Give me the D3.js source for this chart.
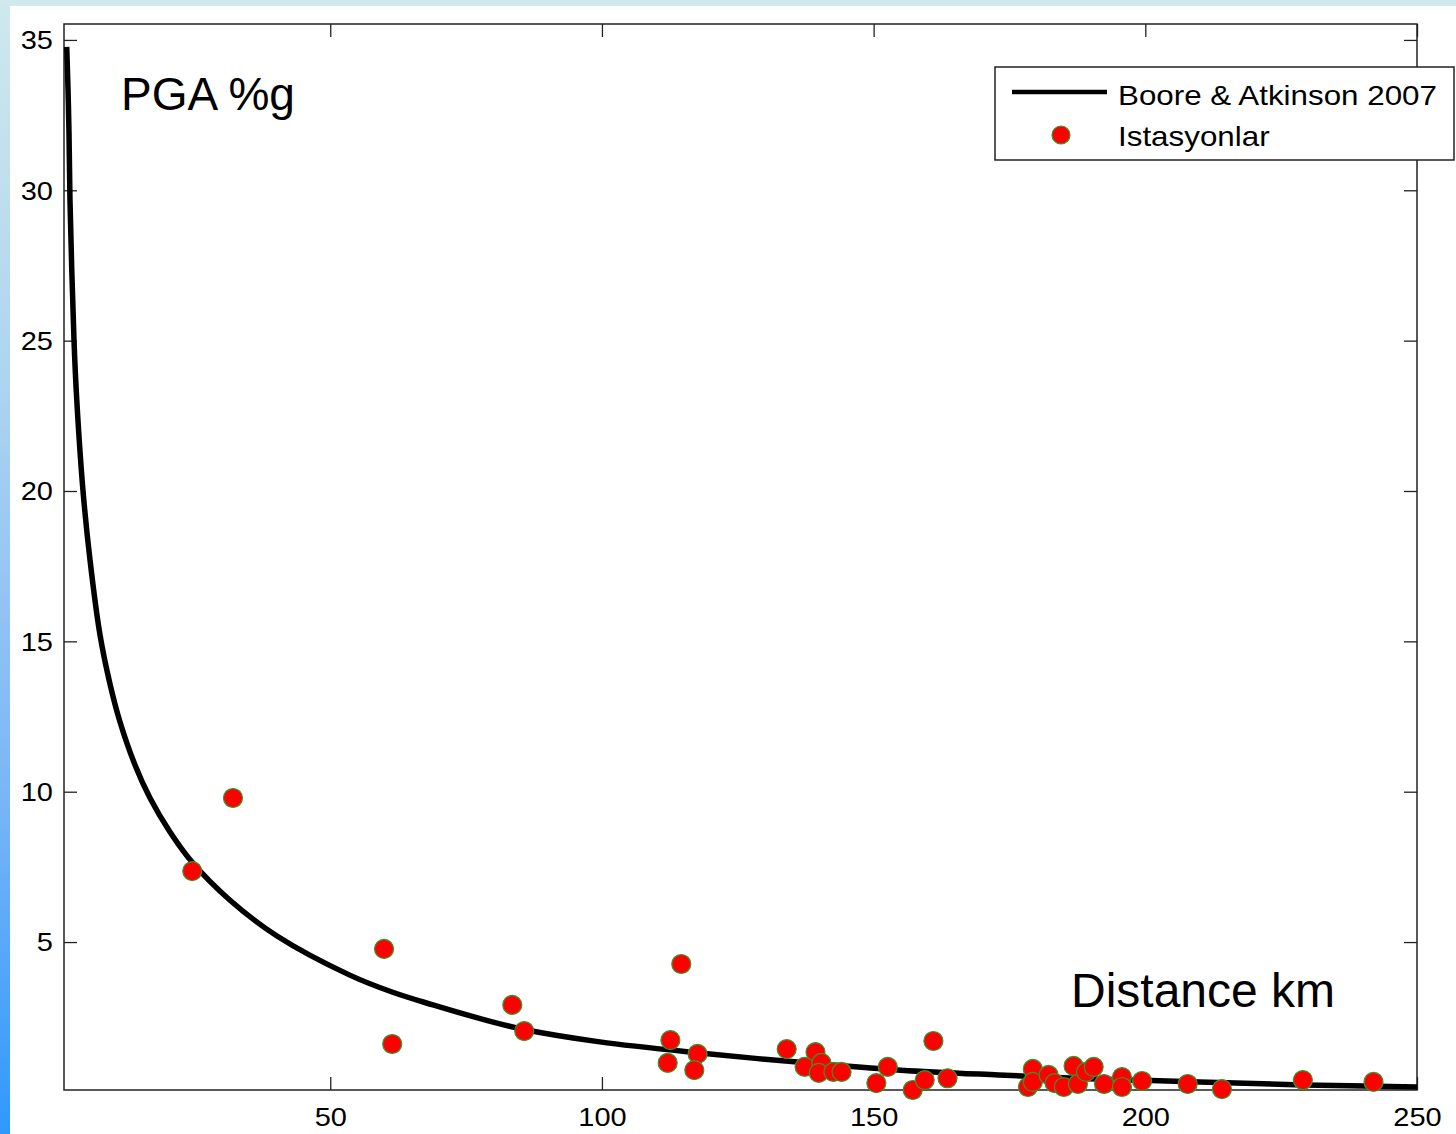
<!DOCTYPE html>
<html>
<head>
    <meta charset="utf-8">
    <title>PGA vs Distance</title>
    <script src="https://d3js.org/d3.v7.min.js"></script>
    <style type="text/css">
        body {
            margin: 0;
            background: #ffffff;
        }
        svg text {
            font-family: "Liberation Sans", Arial, Helvetica, sans-serif;
            fill: #000;
        }
    </style>
</head>
<body>
    <div id="chart"></div>
    <script>
        // Boore & Atkinson 2007 curve
        var curveDist = [1.5, 1.74, 1.92, 2.1, 2.84, 3.35, 4.5, 5.79, 7.63, 9.47, 11.31, 14.07, 16.83, 20.51, 24.56,
            31.55, 40.2, 53.6, 61.5, 68.9, 78.1, 85.5, 99.6, 118, 136.5, 155, 173, 192, 210, 229, 250];
        var curvePGA = [34.77, 33.34, 31.9, 29.68, 25.02, 23.03, 20.0, 17.7, 15.21, 13.58, 12.32, 10.89, 9.79, 8.66, 7.66,
            6.39, 5.2, 3.9, 3.33, 2.91, 2.43, 2.1, 1.68, 1.31, 1.0, 0.74, 0.58, 0.44, 0.35, 0.25, 0.18];

        // stations (Istasyonlar)
        var stationDist = [24.6, 32.1, 59.9, 61.4, 83.5, 85.7, 114.6, 112.6, 112.1, 117.6, 117.0,
            134.0, 139.3, 137.3, 140.4, 139.9, 142.6, 144.1, 150.5, 152.6, 161.0, 157.2, 159.4, 163.6,
            179.3, 178.4, 179.3, 182.2, 183.3, 185.0, 186.8, 187.6, 189.1, 190.5, 192.4, 195.7, 195.7,
            199.4, 207.8, 214.1, 229.0, 242.0];
        var stationPGA = [7.36, 9.79, 4.77, 1.61, 2.91, 2.04, 4.27, 1.74, 0.98, 1.28, 0.74,
            1.44, 1.34, 0.85, 0.98, 0.65, 0.68, 0.68, 0.31, 0.85, 1.71, 0.08, 0.41, 0.47,
            0.78, 0.18, 0.35, 0.58, 0.31, 0.18, 0.88, 0.28, 0.68, 0.85, 0.28, 0.51, 0.18,
            0.38, 0.28, 0.11, 0.41, 0.35];

        var xTicks = [50, 100, 150, 200, 250];
        var yTicks = [5, 10, 15, 20, 25, 30, 35];
        var legendLabels = ["Boore & Atkinson 2007", "Istasyonlar"];

        var W = 1456, H = 1134;
        var margin = { top: 24, right: 39, bottom: 44, left: 64 };
        var width = W - margin.left - margin.right,
            height = H - margin.top - margin.bottom;

        var svg = d3.select("#chart").append("svg")
            .attr("width", W)
            .attr("height", H);

        // slide background: blue gradient strip on the left and top
        var grad = svg.append("defs").append("linearGradient")
            .attr("id", "bg")
            .attr("x1", 0).attr("y1", 0).attr("x2", 0).attr("y2", 1);
        grad.append("stop").attr("offset", "0").attr("stop-color", "#d0e8ee");
        grad.append("stop").attr("offset", "0.35").attr("stop-color", "#acd3f0");
        grad.append("stop").attr("offset", "0.7").attr("stop-color", "#7ab6f6");
        grad.append("stop").attr("offset", "1").attr("stop-color", "#2f98ff");

        svg.append("rect").attr("width", W).attr("height", H).attr("fill", "url(#bg)");
        svg.append("rect").attr("x", 10).attr("y", 6)
            .attr("width", W - 10).attr("height", H - 6)
            .attr("fill", "#ffffff");

        var x = d3.scaleLinear().domain([1, 250]).range([0, width]);
        var y = d3.scaleLinear().domain([0.08, 35.53]).range([height, 0]);

        var g = svg.append("g")
            .attr("transform", "translate(" + margin.left + "," + margin.top + ")");

        var tickLen = 13;

        function styleAxis(sel) {
            sel.select(".domain").remove();
            sel.selectAll(".tick line").attr("stroke", "#222").attr("stroke-width", 1.3);
        }

        // bottom axis with labels
        var xAxis = g.append("g")
            .attr("transform", "translate(0," + height + ")")
            .call(d3.axisBottom(x).tickValues(xTicks).tickSize(-tickLen).tickFormat(d3.format("d")));
        styleAxis(xAxis);
        xAxis.selectAll(".tick text")
            .attr("y", 0).attr("dy", 0)
            .attr("transform", "translate(0,36) scale(1.16,1)")
            .attr("font-size", 25)
            .attr("fill", "#000");

        // top axis, ticks only
        var xTop = g.append("g")
            .call(d3.axisTop(x).tickValues(xTicks).tickSize(-tickLen).tickFormat(""));
        styleAxis(xTop);

        // left axis with labels
        var yAxis = g.append("g")
            .call(d3.axisLeft(y).tickValues(yTicks).tickSize(-tickLen).tickFormat(d3.format("d")));
        styleAxis(yAxis);
        yAxis.selectAll(".tick text")
            .attr("x", 0).attr("dy", "0.35em")
            .attr("transform", "translate(-11,0) scale(1.16,1)")
            .attr("font-size", 25)
            .attr("fill", "#000");

        // right axis, ticks only
        var yRight = g.append("g")
            .attr("transform", "translate(" + width + ",0)")
            .call(d3.axisRight(y).tickValues(yTicks).tickSize(-tickLen).tickFormat(""));
        styleAxis(yRight);

        // frame
        g.append("rect")
            .attr("width", width).attr("height", height)
            .attr("fill", "none")
            .attr("stroke", "#222")
            .attr("stroke-width", 1.5);

        // model curve
        var curveData = curveDist.map(function(d, i) {
            return { d: d, pga: curvePGA[i] };
        });
        var line = d3.line()
            .x(function(d) { return x(d.d); })
            .y(function(d) { return y(d.pga); })
            .curve(d3.curveCatmullRom.alpha(0.5));

        g.append("path")
            .datum(curveData)
            .attr("d", line)
            .attr("fill", "none")
            .attr("stroke", "#000")
            .attr("stroke-width", 5.5);

        // stations
        var stations = stationDist.map(function(d, i) {
            return { d: d, pga: stationPGA[i] };
        });
        g.selectAll("circle.st")
            .data(stations)
            .enter().append("circle")
            .attr("class", "st")
            .attr("cx", function(d) { return x(d.d); })
            .attr("cy", function(d) { return y(d.pga); })
            .attr("r", 9.5)
            .attr("fill", "#ff0000")
            .attr("stroke", "#2e9a2e")
            .attr("stroke-width", 1.2);

        // inner labels
        svg.append("text")
            .attr("x", 121).attr("y", 110)
            .attr("font-size", 46)
            .text("PGA %g");
        svg.append("text")
            .attr("x", 1071).attr("y", 1007)
            .attr("font-size", 48)
            .text("Distance km");

        // legend
        var legend = svg.append("g").attr("transform", "translate(995,67)");
        legend.append("rect")
            .attr("width", 459).attr("height", 93)
            .attr("fill", "#fff")
            .attr("stroke", "#222")
            .attr("stroke-width", 1.5);
        legend.append("line")
            .attr("x1", 17).attr("x2", 112)
            .attr("y1", 25).attr("y2", 25)
            .attr("stroke", "#000")
            .attr("stroke-width", 4.5);
        legend.append("circle")
            .attr("cx", 66).attr("cy", 68)
            .attr("r", 9)
            .attr("fill", "#ff0000")
            .attr("stroke", "#2e9a2e")
            .attr("stroke-width", 1.2);
        legend.selectAll("text.lab")
            .data(legendLabels)
            .enter().append("text")
            .attr("class", "lab")
            .attr("transform", function(d, i) {
                return "translate(123," + (38 + i * 41) + ") scale(1.12,1)";
            })
            .attr("font-size", 28)
            .text(function(d) { return d; });
    </script>
</body>
</html>
